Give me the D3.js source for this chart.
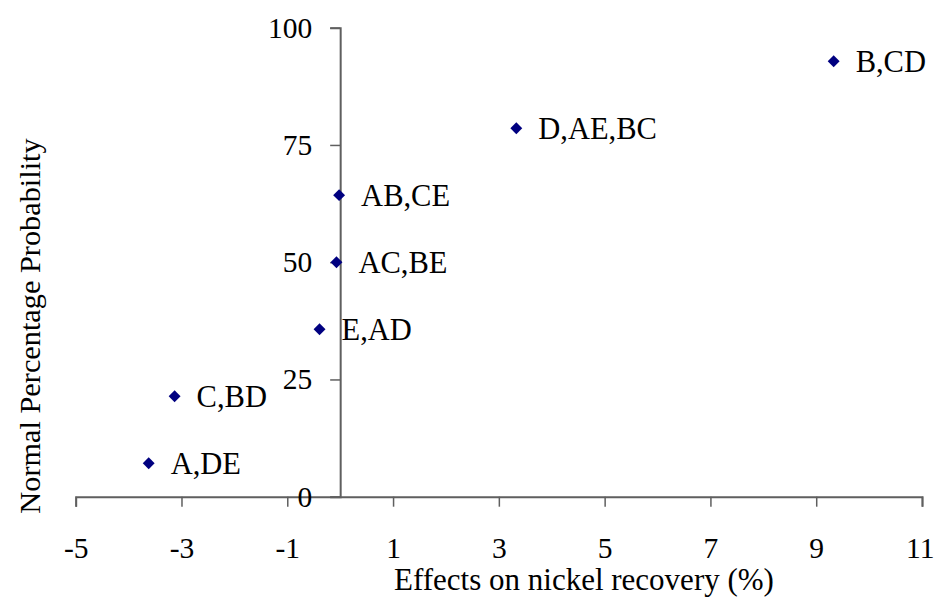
<!DOCTYPE html>
<html>
<head>
<meta charset="utf-8">
<script src="https://cdn.jsdelivr.net/npm/d3@7/dist/d3.min.js"></script>
<style>
  html, body { margin: 0; padding: 0; background: #fff; }
  svg { display: block; }
</style>
</head>
<body>
<svg id="chart" width="935" height="597"></svg>
<script>
// Effect names, their estimated effects (%) and normal percentage probabilities
const effectLabels = ["A,DE", "C,BD", "E,AD", "AC,BE", "AB,CE", "D,AE,BC", "B,CD"];
const effectValues = [-3.62, -3.13, -0.39, -0.07, -0.02, 3.33, 9.33];
const normalProb   = [7.14, 21.43, 35.71, 50, 64.29, 78.57, 92.86];

const xTicks = [-5, -3, -1, 1, 3, 5, 7, 9, 11];
const yTicks = [0, 25, 50, 75, 100];

const serif = "'Liberation Serif', 'Times New Roman', Times, 'DejaVu Serif', serif";
const svg = d3.select("#chart").style("font-family", serif);
const axisColor = "#5f5f5f";

const x = d3.scaleLinear().domain([-5, 11]).range([75.7, 922]);
const y = d3.scaleLinear().domain([0, 100]).range([496.7, 27.7]);

function styleAxis(g) {
  g.attr("font-family", null);
  g.select(".domain").attr("stroke", axisColor).attr("stroke-width", 2);
  g.selectAll(".tick line").attr("stroke", axisColor).attr("stroke-width", 1.5);
  g.selectAll(".tick text")
    .style("font-family", serif)
    .style("font-size", "29.5px")
    .attr("fill", "#000");
}

// X axis drawn along y = 0
const gx = svg.append("g")
  .attr("transform", `translate(0,${y(0)})`)
  .call(d3.axisBottom(x).tickValues(xTicks).tickSize(10).tickPadding(30)
        .tickFormat(d => String(d)))
  .call(styleAxis);

// keep the last tick label inside the drawing area
gx.selectAll(".tick text")
  .filter(d => d === xTicks[xTicks.length - 1])
  .attr("text-anchor", "end")
  .attr("x", 934 - x(xTicks[xTicks.length - 1]));

// Y axis drawn along x = 0
svg.append("g")
  .attr("transform", `translate(${x(0)},0)`)
  .call(d3.axisLeft(y).tickValues(yTicks).tickSize(10).tickPadding(18)
        .tickFormat(d => String(d)))
  .call(styleAxis);

// Points
const pts = effectValues.map((v, i) => ({ x: v, y: normalProb[i], label: effectLabels[i] }));
const diamond = d3.symbol().type(d3.symbolDiamond2).size(90);

svg.append("g").selectAll("path")
  .data(pts).enter().append("path")
  .attr("d", diamond)
  .attr("transform", d => `translate(${x(d.x)},${y(d.y)})`)
  .attr("fill", "#000080");

svg.append("g").selectAll("text")
  .data(pts).enter().append("text")
  .attr("x", d => x(d.x) + 22)
  .attr("y", d => y(d.y) + 11)
  .style("font-family", serif)
  .style("font-size", "30.5px")
  .text(d => d.label);

// Axis titles
svg.append("text")
  .attr("x", 584).attr("y", 590)
  .attr("text-anchor", "middle")
  .style("font-family", serif)
  .style("font-size", "31px")
  .text("Effects on nickel recovery (%)");

svg.append("text")
  .attr("transform", "translate(40,326) rotate(-90)")
  .attr("text-anchor", "middle")
  .style("font-family", serif)
  .style("font-size", "30.3px")
  .text("Normal Percentage Probability");
</script>
</body>
</html>
